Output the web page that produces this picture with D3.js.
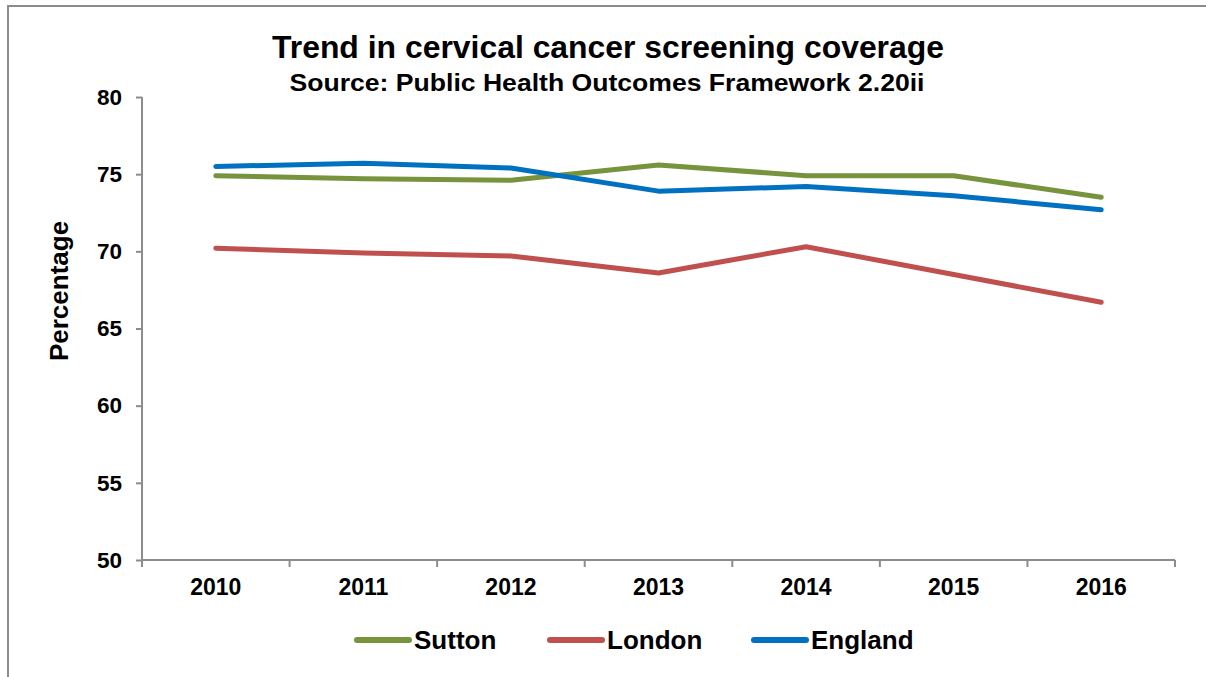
<!DOCTYPE html>
<html>
<head>
<meta charset="utf-8">
<script src="https://cdn.jsdelivr.net/npm/d3@7"></script>
<style>
  html, body { margin: 0; padding: 0; background: #fff; }
  svg { display: block; font-family: "Liberation Sans", Arial, sans-serif; }
</style>
</head>
<body>
<svg id="chart" width="1206" height="677"></svg>
<script>
const years = ["2010", "2011", "2012", "2013", "2014", "2015", "2016"];
const sutton = [74.9, 74.7, 74.6, 75.6, 74.9, 74.9, 73.5];
const london = [70.2, 69.9, 69.7, 68.6, 70.3, 68.5, 66.7];
const england = [75.5, 75.7, 75.4, 73.9, 74.2, 73.6, 72.7];
const yTicks = [50, 55, 60, 65, 70, 75, 80];
const seriesNames = ["Sutton", "London", "England"];
const seriesColors = ["#77933c", "#c0504d", "#0070c0"];
const seriesValues = [sutton, london, england];

const svg = d3.select("#chart");
const axisColor = "#8c8c8c";

// outer border
svg.append("rect").attr("x", 8).attr("y", 6).attr("width", 1210).attr("height", 690)
  .attr("fill", "none").attr("stroke", axisColor).attr("stroke-width", 2);

const pLeft = 142, pRight = 1175, pTop = 97, pBottom = 560;

const x = d3.scaleBand().domain(years).range([pLeft, pRight]).padding(0);
const y = d3.scaleLinear().domain([50, 80]).range([pBottom, pTop]);

// Title
svg.append("text").attr("x", 608).attr("y", 58).attr("text-anchor", "middle")
  .attr("font-size", 32).attr("font-weight", "bold").attr("fill", "#000")
  .attr("textLength", 672).attr("lengthAdjust", "spacingAndGlyphs")
  .text("Trend in cervical cancer screening coverage");
svg.append("text").attr("x", 607).attr("y", 91).attr("text-anchor", "middle")
  .attr("font-size", 23).attr("font-weight", "bold").attr("fill", "#000")
  .attr("textLength", 635).attr("lengthAdjust", "spacingAndGlyphs")
  .text("Source: Public Health Outcomes Framework 2.20ii");

// Y axis
const yAxis = svg.append("g").attr("transform", `translate(${pLeft},0)`)
  .call(d3.axisLeft(y).tickValues(yTicks).tickSize(6).tickPadding(14).tickFormat(d3.format("d")));
yAxis.select(".domain").attr("stroke", axisColor).attr("stroke-width", 2).attr("d", `M0,${pTop}V${pBottom}`);
yAxis.selectAll(".tick line").attr("stroke", axisColor).attr("stroke-width", 2);
yAxis.selectAll(".tick text").attr("font-size", 22.5).attr("font-weight", "bold").attr("fill", "#000")
  .attr("font-family", "Liberation Sans, Arial, sans-serif");

// X axis
const xAxis = svg.append("g").attr("transform", `translate(0,${pBottom})`)
  .call(d3.axisBottom(x).tickSize(0).tickPadding(19));
xAxis.select(".domain").attr("stroke", axisColor).attr("stroke-width", 2).attr("d", `M${pLeft},0H${pRight}`);
xAxis.selectAll(".tick text").attr("font-size", 23).attr("font-weight", "bold").attr("fill", "#000")
  .attr("font-family", "Liberation Sans, Arial, sans-serif");
// category boundary ticks
const bounds = years.map(d => x(d)).concat([x(years[years.length - 1]) + x.bandwidth()]);
xAxis.selectAll("line.bt").data(bounds).enter().append("line").attr("class", "bt")
  .attr("x1", d => d).attr("x2", d => d).attr("y1", 0).attr("y2", 7)
  .attr("stroke", axisColor).attr("stroke-width", 2);

// Y label
svg.append("text").attr("transform", `translate(68,291) rotate(-90)`)
  .attr("text-anchor", "middle").attr("font-size", 26).attr("font-weight", "bold").attr("fill", "#000")
  .text("Percentage");

// Lines
const line = d3.line().x((d, i) => x(years[i]) + x.bandwidth() / 2).y(d => y(d));
seriesValues.forEach((vals, k) => {
  svg.append("path").datum(vals).attr("d", line).attr("fill", "none")
    .attr("stroke", seriesColors[k]).attr("stroke-width", 5)
    .attr("stroke-linecap", "round").attr("stroke-linejoin", "round");
});

// Legend
const legendX = [357, 550, 754];
const legendY = 640;
seriesNames.forEach((name, k) => {
  const g = svg.append("g");
  g.append("line").attr("x1", legendX[k]).attr("x2", legendX[k] + 52)
    .attr("y1", legendY).attr("y2", legendY)
    .attr("stroke", seriesColors[k]).attr("stroke-width", 6).attr("stroke-linecap", "round");
  g.append("text").attr("x", legendX[k] + 57).attr("y", legendY + 9)
    .attr("font-size", 26).attr("font-weight", "bold").attr("fill", "#000").text(name);
});
</script>
</body>
</html>
